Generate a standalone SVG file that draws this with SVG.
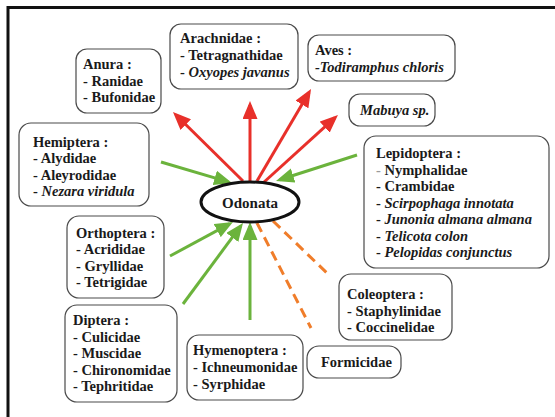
<svg xmlns="http://www.w3.org/2000/svg" width="555" height="417" viewBox="0 0 555 417">
<defs>
<style>
.box{fill:#fff;stroke:#4a4a4a;stroke-width:1.2}
text{font-family:'Liberation Serif','Times New Roman',Tinos,'DejaVu Serif',serif;font-weight:bold;font-size:14.5px;fill:#1a1a1a}
.it{font-style:italic}
.gray{fill:#9a9a9a}
.red{stroke:#e8302a;stroke-width:3;fill:none;marker-end:url(#ahRed)}
.green{stroke:#6bb33c;stroke-width:3;fill:none;marker-end:url(#ahGreen)}
.orange{stroke:#f07d2a;stroke-width:3;fill:none;stroke-dasharray:10 6}
</style>
<marker id="ahRed" markerUnits="userSpaceOnUse" markerWidth="18" markerHeight="15" viewBox="0 0 18 15" refX="14" refY="7.5" orient="auto">
<path d="M0,0 L18,7.5 L0,15 Z" fill="#e8302a"/>
</marker>
<marker id="ahGreen" markerUnits="userSpaceOnUse" markerWidth="18" markerHeight="15" viewBox="0 0 18 15" refX="14" refY="7.5" orient="auto">
<path d="M0,0 L18,7.5 L0,15 Z" fill="#6bb33c"/>
</marker>
</defs>
<rect width="555" height="417" fill="#fff"/>
<path d="M8,417 V7.5 H555" fill="none" stroke="#111" stroke-width="3"/>

<g id="connectors">
<line class="red" x1="243" y1="181" x2="175.8" y2="114.8"/>
<line class="red" x1="250" y1="181" x2="250" y2="105"/>
<line class="red" x1="257" y1="181" x2="309" y2="92.4"/>
<line class="red" x1="263" y1="183" x2="335" y2="117.7"/>
<line class="green" x1="161" y1="162" x2="228.2" y2="181.9"/>
<line class="green" x1="357" y1="155" x2="279.8" y2="179.8"/>
<line class="green" x1="170" y1="256" x2="229.5" y2="223.9"/>
<line class="green" x1="183" y1="304" x2="240.6" y2="226.2"/>
<line class="green" x1="250" y1="320" x2="250" y2="226"/>
<line class="orange" x1="257" y1="223" x2="311" y2="328"/>
<line class="orange" x1="273" y1="221" x2="328" y2="274"/>
</g>

<g id="odonata">
<ellipse cx="250" cy="202" rx="49" ry="20" fill="#fff" stroke="#111" stroke-width="3"/>
<text x="250" y="207.5" text-anchor="middle" style="font-size:15px">Odonata</text>
</g>

<g id="anura">
<rect class="box" x="76" y="49" width="85" height="64" rx="11"/>
<text x="83" y="69">Anura :</text>
<text x="83" y="85.5">- Ranidae</text>
<text x="83" y="102">- Bufonidae</text>
</g>

<g id="arachnidae">
<rect class="box" x="170" y="24" width="128" height="65" rx="11"/>
<text x="180" y="43">Arachnidae :</text>
<text x="180" y="60">- Tetragnathidae</text>
<text x="180" y="77">- <tspan class="it">Oxyopes javanus</tspan></text>
</g>

<g id="aves">
<rect class="box" x="308" y="35" width="147" height="46" rx="11"/>
<text x="315" y="55">Aves :</text>
<text x="315" y="72" class="it">-Todiramphus chloris</text>
</g>

<g id="mabuya">
<rect class="box" x="349" y="94" width="86" height="32" rx="11"/>
<text x="360" y="114.5" class="it">Mabuya sp.</text>
</g>

<g id="lepidoptera">
<rect class="box" x="364" y="136" width="185" height="132" rx="12"/>
<text x="376" y="158">Lepidoptera :</text>
<text x="376" y="174.5"><tspan class="gray">-</tspan> Nymphalidae</text>
<text x="376" y="191">- Crambidae</text>
<text x="376" y="207.5">- <tspan class="it">Scirpophaga innotata</tspan></text>
<text x="376" y="224">- <tspan class="it">Junonia almana almana</tspan></text>
<text x="376" y="240.5">- <tspan class="it">Telicota colon</tspan></text>
<text x="376" y="257">- <tspan class="it">Pelopidas conjunctus</tspan></text>
</g>

<g id="hemiptera">
<rect class="box" x="19" y="123" width="130" height="83" rx="12"/>
<text x="33" y="147">Hemiptera :</text>
<text x="33" y="163">- Alydidae</text>
<text x="33" y="179.5">- Aleyrodidae</text>
<text x="33" y="196">- <tspan class="it">Nezara viridula</tspan></text>
</g>

<g id="orthoptera">
<rect class="box" x="67" y="216" width="97" height="82" rx="12"/>
<text x="76" y="238">Orthoptera :</text>
<text x="76" y="254">- Acrididae</text>
<text x="76" y="270.5">- Gryllidae</text>
<text x="76" y="287">- Tetrigidae</text>
</g>

<g id="diptera">
<rect class="box" x="65" y="305" width="112" height="97" rx="12"/>
<text x="73" y="325">Diptera :</text>
<text x="73" y="341.5">- Culicidae</text>
<text x="73" y="358">- Muscidae</text>
<text x="73" y="374.5">- Chironomidae</text>
<text x="73" y="391">- Tephritidae</text>
</g>

<g id="hymenoptera">
<rect class="box" x="187" y="335" width="116" height="65" rx="12"/>
<text x="193" y="355">Hymenoptera :</text>
<text x="193" y="372">- Ichneumonidae</text>
<text x="193" y="388.5">- Syrphidae</text>
</g>

<g id="coleoptera">
<rect class="box" x="339" y="274" width="113" height="66" rx="12"/>
<text x="347" y="299">Coleoptera :</text>
<text x="347" y="315.5">- Staphylinidae</text>
<text x="347" y="332">- Coccinelidae</text>
</g>

<g id="formicidae">
<rect class="box" x="307" y="346" width="94" height="32" rx="12"/>
<text x="321" y="367">Formicidae</text>
</g>
</svg>
